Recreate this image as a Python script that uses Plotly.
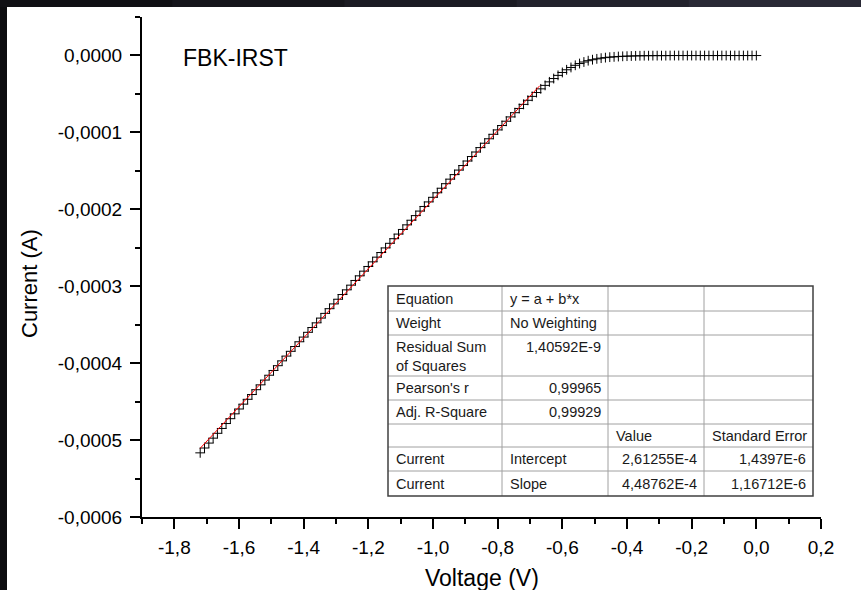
import plotly.graph_objects as go

# ---------------- data ----------------
voltage = [
    -1.72, -1.7067, -1.6933, -1.68, -1.6667, -1.6533, -1.64, -1.6267, -1.6133, -1.6,
    -1.5867, -1.5733, -1.56, -1.5467, -1.5333, -1.52, -1.5067, -1.4933, -1.48, -1.4667,
    -1.4533, -1.44, -1.4267, -1.4133, -1.4, -1.3867, -1.3733, -1.36, -1.3467, -1.3333,
    -1.32, -1.3067, -1.2933, -1.28, -1.2667, -1.2533, -1.24, -1.2267, -1.2133, -1.2,
    -1.1867, -1.1733, -1.16, -1.1467, -1.1333, -1.12, -1.1067, -1.0933, -1.08, -1.0667,
    -1.0533, -1.04, -1.0267, -1.0133, -1.0, -0.9867, -0.9733, -0.96, -0.9467, -0.9333,
    -0.92, -0.9067, -0.8933, -0.88, -0.8667, -0.8533, -0.84, -0.8267, -0.8133, -0.8,
    -0.7867, -0.7733, -0.76, -0.7467, -0.7333, -0.72, -0.7067, -0.6933, -0.68, -0.6667,
    -0.6533, -0.64, -0.6267, -0.6133, -0.6, -0.5867, -0.5733, -0.56, -0.5467, -0.5333,
    -0.52, -0.5067, -0.4933, -0.48, -0.4667, -0.4533, -0.44, -0.4267, -0.4133, -0.4,
    -0.3867, -0.3733, -0.36, -0.3467, -0.3333, -0.32, -0.3067, -0.2933, -0.28, -0.2667,
    -0.2533, -0.24, -0.2267, -0.2133, -0.2, -0.1867, -0.1733, -0.16, -0.1467, -0.1333,
    -0.12, -0.1067, -0.0933, -0.08, -0.0667, -0.0533, -0.04, -0.0267, -0.0133, 0.0,
]

current_uA = [
    -516.6, -510.3, -503.9, -497.5, -491.2, -484.9, -478.5, -472.2, -465.9, -459.6,
    -453.3, -447.0, -440.8, -434.5, -428.2, -422.0, -415.7, -409.5, -403.3, -397.0,
    -390.8, -384.6, -378.4, -372.2, -366.1, -359.9, -353.7, -347.6, -341.4, -335.3,
    -329.2, -323.0, -316.9, -310.8, -304.7, -298.6, -292.5, -286.5, -280.4, -274.3,
    -268.3, -262.2, -256.2, -250.2, -244.2, -238.2, -232.2, -226.2, -220.2, -214.2,
    -208.2, -202.3, -196.3, -190.4, -184.4, -178.5, -172.6, -166.7, -160.8, -154.9,
    -149.0, -143.1, -137.2, -131.4, -125.5, -119.8, -114.1, -108.3, -102.5, -96.8,
    -91.1, -85.5, -79.9, -74.4, -68.9, -63.6, -58.3, -53.2, -48.2, -43.4,
    -38.9, -34.3, -30.0, -25.9, -22.1, -18.6, -15.6, -12.8, -10.5, -8.5,
    -6.8, -5.5, -4.4, -3.5, -2.8, -2.2, -1.8, -1.4, -1.1, -0.9,
    -0.7, -0.5, -0.4, -0.3, -0.3, -0.2, -0.2, -0.2, -0.2, -0.1,
    -0.1, -0.1, -0.1, -0.1, -0.1, -0.1, -0.1, -0.1, -0.1, -0.1,
    -0.1, -0.1, -0.1, -0.1, -0.1, -0.1, -0.1, -0.1, -0.1, -0.1,
]
current_A = [v * 1e-6 for v in current_uA]

# linear fit (from the table): y = a + b*x over the fitted range
fit_intercept = 2.61255e-4
fit_slope = 4.48762e-4
fit_x = [-1.72, -0.67]
fit_y = [fit_intercept + fit_slope * v for v in fit_x]

x_tickvals = [-1.8, -1.6, -1.4, -1.2, -1.0, -0.8, -0.6, -0.4, -0.2, 0.0, 0.2]
x_ticktext = ["-1,8", "-1,6", "-1,4", "-1,2", "-1,0", "-0,8", "-0,6", "-0,4", "-0,2", "0,0", "0,2"]
x_minorvals = [-1.9, -1.7, -1.5, -1.3, -1.1, -0.9, -0.7, -0.5, -0.3, -0.1, 0.1]
y_tickvals = [-0.0006, -0.0005, -0.0004, -0.0003, -0.0002, -0.0001, 0.0]
y_ticktext = ["-0,0006", "-0,0005", "-0,0004", "-0,0003", "-0,0002", "-0,0001", "0,0000"]
y_minorvals = [-0.00055, -0.00045, -0.00035, -0.00025, -0.00015, -0.00005, 0.00005]

table_rows = [
    ["Equation", "y = a + b*x", "", ""],
    ["Weight", "No Weighting", "", ""],
    ["Residual Sum<br>of Squares", "1,40592E-9", "", ""],
    ["Pearson's r", "0,99965", "", ""],
    ["Adj. R-Square", "0,99929", "", ""],
    ["", "", "Value", "Standard Error"],
    ["Current", "Intercept", "2,61255E-4", "1,4397E-6"],
    ["Current", "Slope", "4,48762E-4", "1,16712E-6"],
]

# ---------------- layout helpers ----------------
W, H = 861, 590
ML, MR, MT, MB = 142, 40, 17, 73
PW, PH = W - ML - MR, H - MT - MB
FONT = "Liberation Sans, Arial, sans-serif"


def px_x(p):
    return (p - ML) / PW


def px_y(p):
    return (H - MB - p) / PH


fig = go.Figure()
fig.add_trace(go.Scatter(
    x=voltage, y=current_A, mode="markers",
    marker=dict(symbol="cross-thin", size=7, color="black",
                line=dict(width=1, color="black")),
    showlegend=False, hoverinfo="skip"))
fig.add_trace(go.Scatter(
    x=fit_x, y=fit_y, mode="lines",
    line=dict(color="#ff0000", width=1),
    showlegend=False, hoverinfo="skip"))

axis_common = dict(
    showline=True, linecolor="black", linewidth=2, mirror=False,
    showgrid=False, zeroline=False,
    ticks="outside", ticklen=10, tickwidth=2, tickcolor="black",
    tickfont=dict(family=FONT, size=19, color="black"),
)

fig.update_xaxes(
    range=[-1.9, 0.2], tickmode="array", tickvals=x_tickvals, ticktext=x_ticktext,
    ticklabelstandoff=2,
    minor=dict(tickmode="array", tickvals=x_minorvals, ticks="outside",
               ticklen=5, tickwidth=2, tickcolor="black"),
    **axis_common)
fig.update_yaxes(
    range=[-0.0006, 0.00005], tickmode="array", tickvals=y_tickvals, ticktext=y_ticktext,
    ticklabelstandoff=4,
    minor=dict(tickmode="array", tickvals=y_minorvals, ticks="outside",
               ticklen=5, tickwidth=2, tickcolor="black"),
    **axis_common)

annotations = [
    dict(text="FBK-IRST", x=px_x(181), y=px_y(58), xref="paper", yref="paper",
         xanchor="left", yanchor="middle", showarrow=False,
         font=dict(family=FONT, size=23, color="black")),
    dict(text="Voltage (V)", x=px_x(482), y=px_y(578), xref="paper", yref="paper",
         xanchor="center", yanchor="middle", showarrow=False,
         font=dict(family=FONT, size=23, color="black")),
    dict(text="Current (A)", x=px_x(29), y=px_y(284), xref="paper", yref="paper",
         xanchor="center", yanchor="middle", showarrow=False, textangle=-90,
         font=dict(family=FONT, size=22, color="black")),
]

shapes = []
# dark frame remnants (top and left edges)
shapes.append(dict(type="rect", xref="paper", yref="paper",
                   x0=px_x(0), x1=px_x(7), y0=px_y(H), y1=px_y(0),
                   fillcolor="#0c0c0f", line=dict(width=0), layer="above"))
top_cols = ["#101014", "#15151b", "#1b1b23", "#22222c", "#292935"]
seg = W / len(top_cols)
for k, c in enumerate(top_cols):
    shapes.append(dict(type="rect", xref="paper", yref="paper",
                       x0=px_x(k * seg), x1=px_x((k + 1) * seg + 1), y0=px_y(7), y1=px_y(0),
                       fillcolor=c, line=dict(width=0), layer="above"))

# ---------------- fit table ----------------
col_edges = [388, 502, 608, 704, 813]
row_edges = [286, 311, 335, 376, 400, 424, 447, 471, 496]
for yy in row_edges[1:-1]:
    shapes.append(dict(type="line", xref="paper", yref="paper",
                       x0=px_x(col_edges[0]), x1=px_x(col_edges[-1]), y0=px_y(yy), y1=px_y(yy),
                       line=dict(color="#a0a0a0", width=1), layer="above"))
for xx in col_edges[1:-1]:
    shapes.append(dict(type="line", xref="paper", yref="paper",
                       x0=px_x(xx), x1=px_x(xx), y0=px_y(row_edges[0]), y1=px_y(row_edges[-1]),
                       line=dict(color="#a0a0a0", width=1), layer="above"))
shapes.append(dict(type="rect", xref="paper", yref="paper",
                   x0=px_x(col_edges[0]), x1=px_x(col_edges[-1]),
                   y0=px_y(row_edges[-1]), y1=px_y(row_edges[0]),
                   line=dict(color="#404040", width=1.5), layer="above"))

for r, row in enumerate(table_rows):
    top, bot = row_edges[r], row_edges[r + 1]
    multi = (bot - top) > 30
    for c, txt in enumerate(row):
        if not txt:
            continue
        numeric = txt[0].isdigit()
        if numeric:
            xpos, xanc = col_edges[c + 1] - 5, "right"
        else:
            xpos, xanc = col_edges[c] + 6, "left"
        if multi:
            ypos, yanc = top + 2, "top"
        else:
            ypos, yanc = (top + bot) / 2, "middle"
        annotations.append(dict(
            text=txt, x=px_x(xpos), y=px_y(ypos), xref="paper", yref="paper",
            xanchor=xanc, yanchor=yanc, align="left", showarrow=False,
            font=dict(family=FONT, size=14.5, color="#1a1a1a")))

fig.update_layout(
    width=W, height=H, autosize=False,
    margin=dict(l=ML, r=MR, t=MT, b=MB, pad=0),
    paper_bgcolor="white", plot_bgcolor="white",
    showlegend=False,
    font=dict(family=FONT, color="black"),
    annotations=annotations, shapes=shapes,
)

fig.write_html("out.html")
